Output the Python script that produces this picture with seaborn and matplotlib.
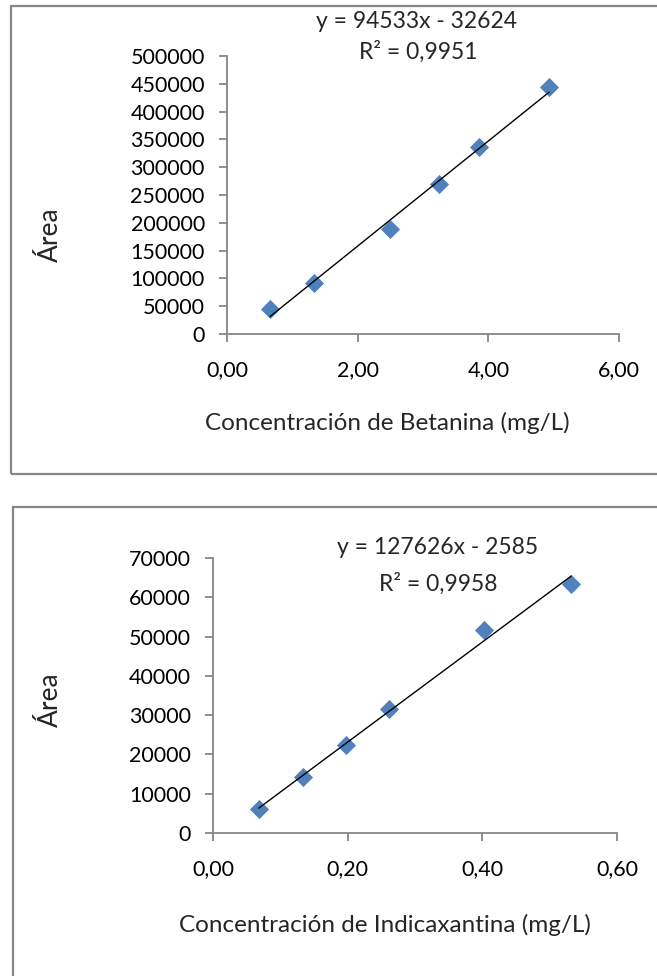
import numpy as np
import pandas as pd
import matplotlib
matplotlib.use("Agg")
import matplotlib.pyplot as plt
from matplotlib.patches import Rectangle
from matplotlib.ticker import FuncFormatter, MultipleLocator
import seaborn as sns

sns.set_theme(style="white")
plt.rcParams['font.family'] = ['Lato', 'DejaVu Sans']

# ---- data ----
beta_conc = [0.66, 1.33, 2.49, 3.25, 3.85, 4.93]
beta_area = [45000, 92000, 188000, 270000, 336000, 444000]
beta_eq = "y = 94533x - 32624"
beta_r2 = "R² = 0,9951"
beta_xlabel = "Concentración de Betanina (mg/L)"

indi_conc = [0.068, 0.134, 0.198, 0.262, 0.403, 0.532]
indi_area = [6000, 14300, 22500, 31500, 51600, 63500]
indi_eq = "y = 127626x - 2585"
indi_r2 = "R² = 0,9958"
indi_xlabel = "Concentración de Indicaxantina (mg/L)"

ylabel = "Área"

W, H = 657, 976
fig = plt.figure(figsize=(W / 100, H / 100), dpi=100)

def fx(px):
    return px / W

def fy(py):
    return 1 - py / H

grey = "#868686"
blue = "#4F81BD"

# chart frames
fig.patches.append(Rectangle((fx(11), fy(474)), fx(700 - 11), fy(6) - fy(474),
                             transform=fig.transFigure, fill=False,
                             edgecolor=grey, lw=1.6, zorder=0))
fig.patches.append(Rectangle((fx(13), fy(1100)), fx(700 - 13), fy(507) - fy(1100),
                             transform=fig.transFigure, fill=False,
                             edgecolor=grey, lw=1.6, zorder=0))

def make_panel(rect, xs, ys, xmax, xstep, ymax, ystep, eq, r2, eqpos, r2pos,
               xlabel, xlabpos, ylabpos):
    ax = fig.add_axes(rect)
    df = pd.DataFrame({"x": xs, "y": ys})
    sns.regplot(data=df, x="x", y="y", ax=ax, ci=None, truncate=True,
                scatter=False, line_kws=dict(color="black", lw=1.0, zorder=3))
    sns.scatterplot(data=df, x="x", y="y", ax=ax, marker="D", s=95,
                    color=blue, edgecolor=blue, linewidth=0, zorder=2)
    ax.set_xlim(0, xmax)
    ax.set_ylim(0, ymax)
    ax.xaxis.set_major_locator(MultipleLocator(xstep))
    ax.yaxis.set_major_locator(MultipleLocator(ystep))
    ax.xaxis.set_major_formatter(FuncFormatter(lambda v, p: f"{v:.2f}".replace(".", ",")))
    ax.yaxis.set_major_formatter(FuncFormatter(lambda v, p: f"{int(round(v))}"))
    for s in ["top", "right"]:
        ax.spines[s].set_visible(False)
    for s in ["left", "bottom"]:
        ax.spines[s].set_color(grey)
        ax.spines[s].set_linewidth(1.3)
    ax.tick_params(axis="both", which="major", direction="out", length=6,
                   width=1.3, color=grey, labelsize=15.5, labelcolor="black",
                   bottom=True, left=True)
    ax.tick_params(axis="x", pad=13)
    ax.tick_params(axis="y", pad=10)
    ax.set_xlabel("")
    ax.set_ylabel("")
    ax.set_facecolor("none")
    fig.text(fx(eqpos[0]), fy(eqpos[1]), eq, ha="center", va="center", fontsize=16.5)
    fig.text(fx(r2pos[0]), fy(r2pos[1]), r2, ha="center", va="center", fontsize=16.5)
    fig.text(fx(xlabpos[0]), fy(xlabpos[1]), xlabel, ha="center", va="center", fontsize=17.5)
    fig.text(fx(ylabpos[0]), fy(ylabpos[1]), ylabel, ha="center", va="center",
             fontsize=19, rotation=90)
    return ax

make_panel([fx(227), fy(334), fx(619) - fx(227), fy(56) - fy(334)],
           beta_conc, beta_area, 6, 2, 500000, 50000,
           beta_eq, beta_r2, (417, 22), (418, 52),
           beta_xlabel, (387, 423), (50, 235))

make_panel([fx(213), fy(833), fx(617) - fx(213), fy(558) - fy(833)],
           indi_conc, indi_area, 0.6, 0.2, 70000, 10000,
           indi_eq, indi_r2, (438, 548), (438, 584),
           indi_xlabel, (385, 925), (50, 700))

fig.savefig("out.png", dpi=100)
